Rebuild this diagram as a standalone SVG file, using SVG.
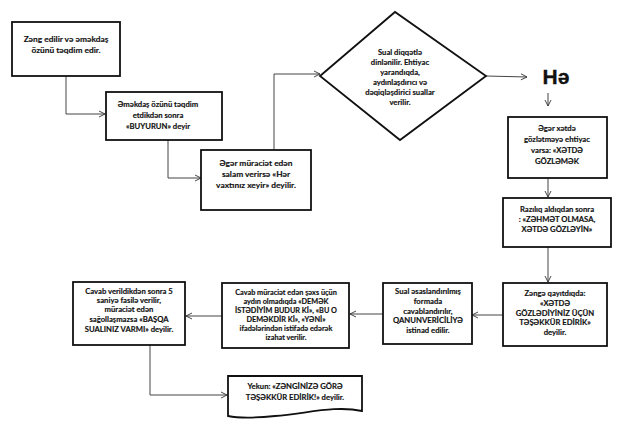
<svg xmlns="http://www.w3.org/2000/svg" width="620" height="430" viewBox="0 0 620 430">
<defs>
<marker id="arr" markerWidth="8" markerHeight="8" refX="7" refY="4" orient="auto" markerUnits="userSpaceOnUse">
<path d="M1,1 L7,4 L1,7" fill="none" stroke="#333" stroke-width="0.9"/>
</marker>
<style>
.box{fill:#fff;stroke:#111;stroke-width:1.8}
.ln{fill:none;stroke:#444;stroke-width:1}
text{font-family:Lato,"Liberation Sans",sans-serif;font-weight:bold;fill:#111;stroke:#111;stroke-width:0.15;text-anchor:middle;font-size:7.7px}
.big{font-size:8.4px}
.sm{font-size:7.3px}
.he{font-family:"Liberation Sans",Arial,sans-serif;font-size:21px;font-weight:bold;stroke-width:0.3}
</style>
</defs>
<rect width="620" height="430" fill="#fff"/>
<g id="connectors">
<polyline class="ln" points="66,76 66,114 105,114" marker-end="url(#arr)"/>
<polyline class="ln" points="168,140 168,178 201,178" marker-end="url(#arr)"/>
<polyline class="ln" points="274,150 274,74 320,74" marker-end="url(#arr)"/>
<line class="ln" x1="486" y1="76" x2="527" y2="77" marker-end="url(#arr)"/>
<line class="ln" x1="548" y1="93" x2="548" y2="106" marker-end="url(#arr)"/>
<line class="ln" x1="548" y1="178" x2="548" y2="197" marker-end="url(#arr)"/>
<line class="ln" x1="548" y1="247" x2="548" y2="282" marker-end="url(#arr)"/>
<line class="ln" x1="503" y1="315" x2="472" y2="315" marker-end="url(#arr)"/>
<line class="ln" x1="383" y1="314" x2="350" y2="314" marker-end="url(#arr)"/>
<line class="ln" x1="222" y1="316" x2="186" y2="316" marker-end="url(#arr)"/>
<polyline class="ln" points="150,345 150,395 227,395" marker-end="url(#arr)"/>
</g>
<g id="n1">
<rect class="box" x="12" y="22" width="108" height="54"/>
<text class="big" x="66" y="42">Zəng edilir və əməkdaş</text>
<text class="big" x="66" y="53">özünü təqdim edir.</text>
</g>
<g id="n2">
<rect class="box" x="106" y="92" width="116" height="48"/>
<text x="158" y="107">Əməkdaş özünü təqdim</text>
<text x="158" y="118">etdikdən sonra</text>
<text x="158" y="129">«BUYURUN» deyir</text>
</g>
<g id="n3">
<rect class="box" x="201" y="150" width="110" height="60"/>
<text class="big" x="256" y="166">Əgər müraciət edən</text>
<text class="big" x="256" y="177">salam verirsə «Hər</text>
<text class="big" x="256" y="188">vaxtınız xeyir» deyilir.</text>
</g>
<g id="n4">
<polygon class="box" points="320,76 395,12 486,76 400,140"/>
<text x="400" y="55">Sual diqqətlə</text>
<text x="400" y="65">dinlənilir. Ehtiyac</text>
<text x="400" y="75">yarandıqda,</text>
<text x="400" y="85">aydınlaşdırıcı və</text>
<text x="400" y="95">dəqiqləşdirici suallar</text>
<text x="400" y="105">verilir.</text>
</g>
<g id="n5">
<text class="he" x="556" y="84">Hə</text>
</g>
<g id="n6">
<rect class="box" x="508" y="117" width="99" height="61"/>
<text x="557" y="131">Əgər xətdə</text>
<text x="557" y="142">gözlətməyə ehtiyac</text>
<text x="557" y="153">varsa: «XƏTDƏ</text>
<text x="557" y="164">GÖZLƏMƏK</text>
</g>
<g id="n7">
<rect class="box" x="503" y="198" width="108" height="49"/>
<text x="557" y="212">Razılıq aldıqdan sonra</text>
<text x="557" y="222">: «ZƏHMƏT OLMASA,</text>
<text x="557" y="232">XƏTDƏ GÖZLƏYİN»</text>
</g>
<g id="n8">
<rect class="box" x="503" y="283" width="104" height="63"/>
<text x="555" y="296">Zəngə qayıtdıqda:</text>
<text x="555" y="306">«XƏTDƏ</text>
<text x="555" y="316">GÖZLƏDİYİNİZ ÜÇÜN</text>
<text x="555" y="325">TƏŞƏKKÜR EDİRİK»</text>
<text x="555" y="335">deyilir.</text>
</g>
<g id="n9">
<rect class="box" x="383" y="283" width="89" height="61"/>
<text x="428" y="294">Sual əsaslandırılmış</text>
<text x="428" y="304">formada</text>
<text x="428" y="314">cavablandırılır,</text>
<text x="428" y="323">QANUNVERİCİLİYƏ</text>
<text x="428" y="333">istinad edilir.</text>
</g>
<g id="n10">
<rect class="box" x="222" y="283" width="127" height="65"/>
<text class="sm" x="286" y="295">Cavab müraciət edən şəxs üçün</text>
<text class="sm" x="286" y="304">aydın olmadıqda «DEMƏK</text>
<text class="sm" x="286" y="313">İSTƏDİYİM BUDUR Kİ», «BU O</text>
<text class="sm" x="286" y="322">DEMƏKDİR Kİ», «YƏNİ»</text>
<text class="sm" x="286" y="331">ifadələrindən istifadə edərək</text>
<text class="sm" x="286" y="340">izahat verilir.</text>
</g>
<g id="n11">
<rect class="box" x="73" y="282" width="112" height="63"/>
<text x="129" y="294">Cavab verildikdən sonra 5</text>
<text x="129" y="303">saniyə fasilə verilir,</text>
<text x="129" y="312">müraciət edən</text>
<text x="129" y="322">sağollaşmazsa «BAŞQA</text>
<text x="129" y="332">SUALINIZ VARMI» deyilir.</text>
</g>
<g id="n12">
<path class="box" d="M228,376 L362,376 L362,411 C335,405 305,414 275,416 C255,418 238,418 228,416 Z"/>
<text x="295" y="389">Yekun: «ZƏNGİNİZƏ GÖRƏ</text>
<text x="295" y="400">TƏŞƏKKÜR EDİRİK!» deyilir.</text>
</g>
</svg>
